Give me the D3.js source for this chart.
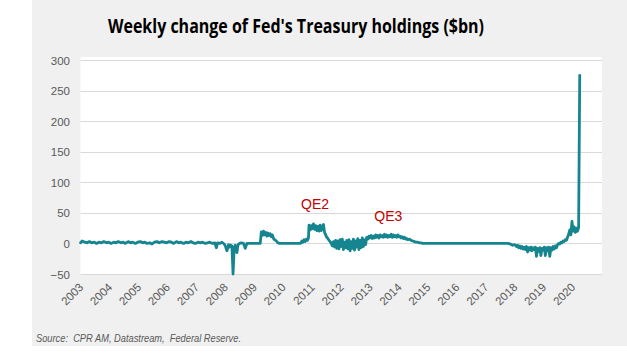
<!DOCTYPE html>
<html><head><meta charset="utf-8">
<script src="https://cdn.jsdelivr.net/npm/d3@7"></script>
<style>html,body{margin:0;padding:0;background:#fff;}svg{display:block;}</style>
</head><body>
<svg id="chart" width="627" height="362"></svg>
<script>
const title = "Weekly change of Fed's Treasury holdings ($bn)";
const source = "Source:  CPR AM, Datastream,  Federal Reserve.";
const yTicks = [-50, 0, 50, 100, 150, 200, 250, 300];
const yearLabels = ["2003","2004","2005","2006","2007","2008","2009","2010","2011","2012","2013","2014","2015","2016","2017","2018","2019","2020"];
const annotations = [{text:"QE2", date:"2011-01-20", value:57}, {text:"QE3", date:"2013-08-01", value:37}];

const dates = [
"2002-12-13","2003-01-03","2003-02-07","2003-03-07","2003-04-04","2003-05-02","2003-06-06","2003-07-04","2003-08-01","2003-09-05","2003-10-03","2003-11-07","2003-12-05",
"2004-01-02","2004-02-06","2004-03-05","2004-04-02","2004-05-07","2004-06-04","2004-07-02","2004-08-06","2004-09-03","2004-10-01","2004-11-05","2004-12-03",
"2005-01-07","2005-02-04","2005-03-04","2005-04-01","2005-05-06","2005-06-03","2005-07-01","2005-08-05","2005-09-02","2005-10-07","2005-11-04","2005-12-02",
"2006-01-06","2006-02-03","2006-03-03","2006-04-07","2006-05-05","2006-06-02","2006-07-07","2006-08-04","2006-09-01","2006-10-06","2006-11-03","2006-12-01",
"2007-01-05","2007-02-02","2007-03-02","2007-04-06","2007-05-04","2007-06-01","2007-07-06","2007-08-03","2007-08-24","2007-09-07","2007-10-05","2007-11-02","2007-11-30","2007-12-14",
"2008-01-04","2008-01-25","2008-02-08","2008-02-22","2008-03-07","2008-03-21","2008-04-04","2008-04-18","2008-05-09","2008-05-23","2008-06-13","2008-07-04","2008-08-01","2008-08-22","2008-09-12","2008-09-26","2009-02-27",
"2009-03-13","2009-03-27","2009-04-10","2009-04-24","2009-05-08","2009-05-22","2009-06-05","2009-06-19","2009-07-03","2009-07-17","2009-07-31","2009-08-14","2009-08-28","2009-09-11","2009-09-25","2009-10-09","2009-10-30",
"2010-07-23","2010-08-06","2010-08-20","2010-09-03","2010-09-17","2010-10-01","2010-10-15","2010-10-29","2010-11-05","2010-11-19","2010-12-03","2010-12-17","2010-12-31",
"2011-01-14","2011-01-28","2011-02-11","2011-02-25","2011-03-11","2011-03-25","2011-04-08","2011-04-22","2011-05-06","2011-05-20","2011-06-03","2011-06-17","2011-07-01","2011-07-15","2011-07-29","2011-08-12","2011-08-26",
"2011-09-09","2011-09-23","2011-10-07","2011-10-21","2011-11-04","2011-11-18","2011-12-02","2011-12-16","2011-12-30",
"2012-01-13","2012-01-27","2012-02-10","2012-02-24","2012-03-09","2012-03-23","2012-04-06","2012-04-20","2012-05-04","2012-05-18","2012-06-01","2012-06-15","2012-06-29","2012-07-13","2012-07-27","2012-08-10","2012-08-24","2012-09-07","2012-09-21","2012-10-05","2012-10-19","2012-11-02","2012-11-16","2012-11-30","2012-12-14","2012-12-28",
"2013-01-11","2013-01-25","2013-02-08","2013-02-22","2013-03-08","2013-03-22","2013-04-05","2013-04-19","2013-05-03","2013-05-17","2013-05-31","2013-06-14","2013-06-28","2013-07-12","2013-07-26","2013-08-09","2013-08-23","2013-09-06","2013-09-20","2013-10-04","2013-10-18","2013-11-01","2013-11-15","2013-11-29","2013-12-13","2013-12-27",
"2014-01-10","2014-01-24","2014-02-07","2014-02-21","2014-03-07","2014-03-21","2014-04-04","2014-04-25","2014-05-16","2014-06-06","2014-06-27","2014-07-18","2014-08-08","2014-08-29","2014-09-19","2014-10-10","2014-11-07",
"2017-09-22","2017-10-20","2017-11-17","2017-12-15",
"2018-01-05","2018-01-19","2018-02-02","2018-02-16","2018-03-02","2018-03-16","2018-03-30","2018-04-13","2018-04-27","2018-05-11","2018-05-25","2018-06-08","2018-06-22","2018-07-06","2018-07-20","2018-08-03","2018-08-17","2018-08-31","2018-09-14","2018-09-28","2018-10-12","2018-10-26","2018-11-09","2018-11-23","2018-12-07","2018-12-21",
"2019-01-04","2019-01-18","2019-02-01","2019-02-15","2019-03-01","2019-03-15","2019-03-29","2019-04-12","2019-04-26","2019-05-10","2019-05-24","2019-06-07","2019-06-21","2019-07-05","2019-07-19","2019-08-02","2019-08-16","2019-08-30","2019-09-13","2019-09-27","2019-10-11","2019-10-25","2019-11-08","2019-11-22","2019-12-06","2019-12-20",
"2020-01-03","2020-01-17","2020-01-31","2020-02-14","2020-02-28","2020-03-13"
];
const values = [
1,4,2,1,3,1,2,0,2,1,3,1,2,
0,2,1,3,1,2,0,3,1,2,0,2,
3,1,2,0,1,-1,2,3,1,3,2,1,
3,2,0,3,1,2,0,2,1,3,1,0,
2,1,2,0,1,2,0,1,-7,1,0,2,-1,-4,
-12,-2,-6,-3,-4,-50,-8,-3,-15,-2,0,1,0,-8,0,0,0,
19,13,20,14,18,12,17,13,16,11,14,8,6,5,3,1,0,
0,4,2,6,3,7,5,9,30,22,29,24,32,
23,29,21,28,20,30,21,27,31,18,14,10,8,5,3,0,-4,
3,-6,5,-8,4,-9,6,-5,7,
-10,2,-7,5,-9,6,-12,3,-8,7,-11,4,-6,8,-10,5,-7,9,-5,6,-2,10,7,12,9,13,
8,12,9,14,10,13,9,14,11,13,10,15,11,14,10,13,11,15,10,14,11,13,10,14,11,12,
9,11,8,10,7,8,6,7,5,4,3,2,2,1,1,0,0,
0,-1,-3,-2,
-5,-3,-7,-4,-8,-5,-9,-6,-10,-5,-14,-7,-11,-6,-12,-7,-10,-6,-21,-8,-13,-7,-20,-8,-11,-6,
-20,-7,-12,-6,-21,-7,-11,-5,-9,-4,-7,-2,0,-1,2,1,4,3,6,5,10,15,22,14,36,20,
27,18,25,20,26,275
];

const parse = d3.timeParse("%Y-%m-%d");
const data = dates.map((d, i) => ({date: parse(d), value: values[i]}));

const svg = d3.select("#chart");
const W = 627, H = 362;
const plot = {left: 80.5, right: 602, top: 57, bottom: 274.5};

// backgrounds
svg.append("rect").attr("x", 0).attr("y", 0).attr("width", W).attr("height", H).attr("fill", "#ffffff");
svg.append("rect").attr("x", 32).attr("y", 0).attr("width", W - 32).attr("height", 346).attr("fill", "#f0f0f0");
svg.append("rect").attr("x", plot.left).attr("y", plot.top).attr("width", plot.right - plot.left).attr("height", plot.bottom - plot.top).attr("fill", "#ffffff");

const x = d3.scaleTime()
  .domain([parse("2002-12-13"), parse("2020-12-19")])
  .range([plot.left, plot.right]);
const y = d3.scaleLinear().domain([-50, 300]).range([274, 60]);

// gridlines
svg.append("g").selectAll("line").data(yTicks).join("line")
  .attr("x1", plot.left).attr("x2", plot.right)
  .attr("y1", d => Math.round(y(d)) + 0.5).attr("y2", d => Math.round(y(d)) + 0.5)
  .attr("stroke", "#d9d9d9").attr("stroke-width", 1);

// y axis labels
const yAxis = d3.axisLeft(y).tickValues(yTicks).tickSize(0).tickPadding(0);
const gy = svg.append("g").attr("transform", "translate(70,0)").call(yAxis);
gy.select(".domain").remove();
gy.selectAll("text").attr("font-family", "'Liberation Sans', Arial, sans-serif")
  .attr("font-size", "11.5px").attr("fill", "#595959").attr("dy", "0.36em");

// x axis labels (rotated)
const yearDates = yearLabels.map(s => parse(s + "-01-01"));
const xAxis = d3.axisBottom(x).tickValues(yearDates).tickFormat(d3.timeFormat("%Y")).tickSize(0).tickPadding(0);
const gx = svg.append("g").attr("transform", "translate(1.5,288)").call(xAxis);
gx.select(".domain").remove();
gx.selectAll("text")
  .attr("font-family", "'Liberation Sans', Arial, sans-serif")
  .attr("font-size", "11.5px").attr("fill", "#595959")
  .attr("text-anchor", "end").attr("dy", "0").attr("y", 0)
  .attr("transform", "rotate(-45)");

// line
const line = d3.line().x(d => x(d.date)).y(d => y(d.value));
svg.append("path").datum(data).attr("d", line)
  .attr("fill", "none").attr("stroke", "#15858f").attr("stroke-width", 2.8)
  .attr("stroke-linejoin", "round").attr("stroke-linecap", "round");

// annotations
svg.append("g").selectAll("text").data(annotations).join("text")
  .attr("x", d => x(parse(d.date))).attr("y", d => y(d.value))
  .attr("text-anchor", "middle")
  .attr("font-family", "'Liberation Sans', Arial, sans-serif").attr("font-size", "14px")
  .attr("fill", "#c00000").text(d => d.text);

// title
svg.append("text").attr("x", 108).attr("y", 33)
  .attr("font-family", "'Liberation Sans Narrow', 'Open Sans', sans-serif")
  .attr("font-weight", "bold").attr("font-size", "20px").attr("fill", "#000")
  .attr("textLength", 376).attr("lengthAdjust", "spacingAndGlyphs")
  .text(title);

// source
svg.append("text").attr("x", 36).attr("y", 342)
  .style("white-space", "pre")
  .attr("font-family", "'Liberation Sans', Arial, sans-serif")
  .attr("font-style", "italic").attr("font-size", "11px").attr("fill", "#595959")
  .attr("textLength", 205).attr("lengthAdjust", "spacingAndGlyphs")
  .text(source);
</script>
</body></html>
